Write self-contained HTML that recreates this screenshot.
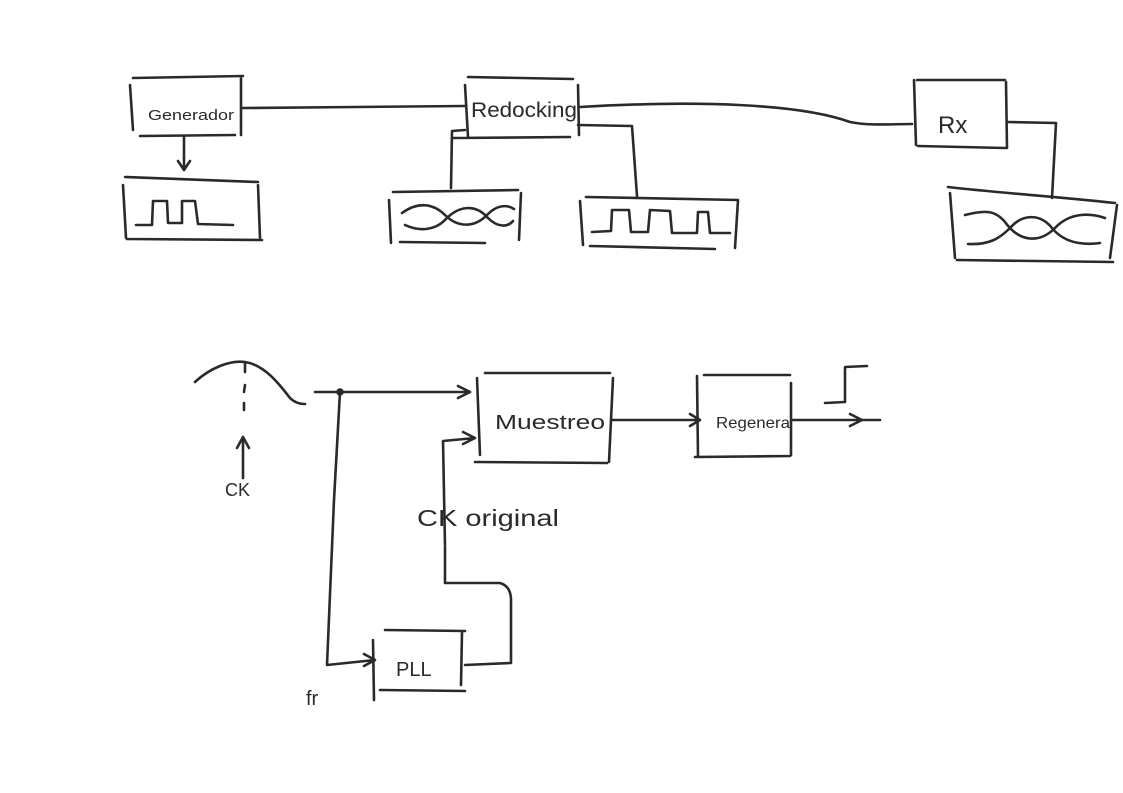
<!DOCTYPE html>
<html><head><meta charset="utf-8"><style>
html,body{margin:0;padding:0;background:#fff;}
svg{display:block;}
text{font-family:"Liberation Sans",sans-serif;fill:#2a2a2a;}
</style></head><body>
<svg width="1123" height="793" viewBox="0 0 1123 793" xmlns="http://www.w3.org/2000/svg">
<g fill="none" stroke="#2a2a2a" stroke-width="2.6" stroke-linecap="round" stroke-linejoin="round">
<!-- Generator -->
<path d="M133,78 L243,76 M130,85 L133,130 M241,78 L241,135 M140,136 L235,135"/>
<path d="M243,108 L465,106"/>
<path d="M184,137 L184,170 M178,161 L184,170 L190,161"/>
<!-- square box 1 -->
<path d="M125,177 L258,182 M123,185 L126,238 M258,185 L260,238 M127,239 L262,240"/>
<path d="M136,225 L152,225 L153,201 L167,201 L168,223 L182,223 L182,201 L195,201 L198,224 L233,225"/>
<!-- Redocking -->
<path d="M468,77 L573,79 M465,85 L468,137 M578,85 L579,135 M453,138 L570,137"/>
<path d="M465,130 L452,131 L451,188"/>
<path d="M578,125 L632,126 L637,196"/>
<path d="M580,107 C700,100 800,104 850,122 C870,126 890,124 912,124"/>
<!-- eye box 1 -->
<path d="M393,192 L518,190 M389,200 L391,243 M521,193 L519,240 M400,242 L485,243"/>
<path d="M402,213 C420,200 435,205 445,215 C458,228 475,228 488,214 C498,204 508,205 514,209"/>
<path d="M405,225 C420,232 435,230 445,220 C458,206 475,203 488,218 C498,228 508,227 513,221"/>
<!-- square box 2 -->
<path d="M586,197 L738,200 M580,201 L583,245 M738,200 L735,248 M590,246 L715,249"/>
<path d="M592,232 L611,231 L612,210 L629,210 L631,232 L648,232 L650,210 L670,211 L672,233 L697,233 L698,212 L708,212 L710,233 L730,233"/>
<!-- Rx -->
<path d="M917,80 L1005,80 M914,80 L916,145 M1006,82 L1007,148 M918,146 L1005,148"/>
<path d="M1007,122 L1056,123 L1052,198"/>
<path d="M948,187 C1000,193 1050,196 1115,203 M950,193 L955,258 M1117,205 L1110,258 M957,260 L1113,262"/>
<path d="M965,215 C985,210 995,210 1005,222 C1020,243 1040,243 1055,228 C1070,212 1090,213 1105,218"/>
<path d="M968,244 C990,245 1000,238 1010,228 C1022,214 1040,213 1052,228 C1065,244 1085,245 1100,243"/>
<!-- bottom -->
<path d="M195,382 C210,368 230,360 245,362 C265,365 280,385 290,398 C295,403 300,404 305,404"/>
<path d="M245,363 L245,372 M245,385 L244,392 M244,403 L244,410"/>
<path d="M243,478 L243,437 M237,448 L243,437 L249,448"/>
<path d="M315,392 L470,392 M458,386 L470,392 L458,398"/>
<circle cx="340" cy="392" r="2.5" fill="#2a2a2a"/>
<path d="M340,392 L334,500 L327,665 L375,660 M364,654 L375,660 L364,666"/>
<!-- Muestreo -->
<path d="M485,373 L610,373 M477,378 L480,455 M613,378 L609,462 M475,462 L607,463"/>
<path d="M445,545 L443,441 L475,438 M463,432 L475,438 L463,444"/>
<path d="M445,547 L445,583 L452,583 L500,583 C510,586 511,595 511,600 L511,663 L465,665"/>
<!-- PLL -->
<path d="M385,630 L465,631 M373,640 L374,700 M462,632 L461,685 M380,690 L465,691"/>
<!-- Regen -->
<path d="M612,420 L700,420 M690,414 L700,420 L690,426"/>
<path d="M704,375 L790,375 M697,376 L698,457 M791,383 L791,455 M695,457 L790,456"/>
<path d="M792,420 L880,420 M850,414 L862,420 L850,426"/>
<path d="M825,403 L845,402 L845,367 L867,366"/>
</g>
<text x="148" y="120" font-size="15" textLength="86" lengthAdjust="spacingAndGlyphs">Generador</text>
<text x="471" y="117" font-size="21" textLength="106" lengthAdjust="spacingAndGlyphs">Redocking</text>
<text x="938" y="133" font-size="24">Rx</text>
<text x="225" y="496" font-size="18">CK</text>
<text x="495" y="429" font-size="20" textLength="110" lengthAdjust="spacingAndGlyphs">Muestreo</text>
<text x="716" y="428" font-size="16" textLength="74" lengthAdjust="spacingAndGlyphs">Regenera</text>
<text x="417" y="526" font-size="23" textLength="142" lengthAdjust="spacingAndGlyphs">CK original</text>
<text x="396" y="676" font-size="20">PLL</text>
<text x="306" y="705" font-size="20">fr</text>
</svg>
</body></html>
